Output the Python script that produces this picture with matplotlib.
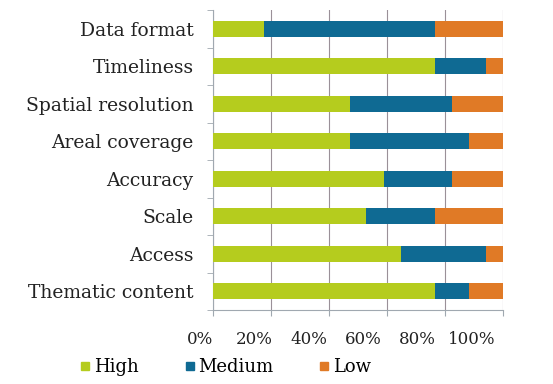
import numpy as np
import matplotlib
matplotlib.use('Agg')
import matplotlib.pyplot as plt
from matplotlib.lines import Line2D

categories = ['Thematic content', 'Access', 'Scale', 'Accuracy',
              'Areal coverage', 'Spatial resolution', 'Timeliness', 'Data format']
high = [76.5, 64.7, 52.9, 58.8, 47.1, 47.1, 76.5, 17.6]
medium = [11.8, 29.4, 23.5, 23.5, 41.2, 35.3, 17.6, 58.8]
low = [11.8, 5.9, 23.5, 17.6, 11.8, 17.6, 5.9, 23.5]
xticks = [0, 20, 40, 60, 80, 100]

colors = {'High': '#b5cc1e', 'Medium': '#0f6a93', 'Low': '#e07a26'}

plt.rcParams['font.family'] = ['DejaVu Serif']

fig = plt.figure(figsize=(5.53, 3.84), dpi=100)
ax = fig.add_axes([213 / 553, 1 - 310 / 384, 290 / 553, 300 / 384])

y = np.arange(len(categories))
h = np.array(high)
m = np.array(medium)
l = np.array(low)
ax.barh(y, h, height=0.43, color=colors['High'], zorder=3)
ax.barh(y, m, left=h, height=0.43, color=colors['Medium'], zorder=3)
ax.barh(y, l, left=h + m, height=0.43, color=colors['Low'], zorder=3)

ax.set_xlim(0, 100)
ax.set_ylim(-0.5, len(categories) - 0.5)
ax.set_xticks(xticks)
ax.set_xticklabels([])
ax.xaxis.grid(True, color='#9a9098', linewidth=0.8, zorder=0)

# tick labels sit a bit left of their ticks in the original
for v in xticks:
    ax.text(-4.5 + v * 0.938, -1.28, f'{v}%', transform=ax.transData,
            ha='center', va='center', fontsize=12, color='#222222',
            clip_on=False)

ax.set_yticks(y)
ax.set_yticklabels(categories, fontsize=13.5, color='#222222')
ax.set_yticks(np.arange(-0.5, len(categories), 1), minor=True)
ax.tick_params(axis='y', which='major', length=0, pad=14)
ax.tick_params(axis='y', which='minor', length=4, color='#a0a8b0')
ax.tick_params(axis='x', length=4, color='#a0a8b0')

for side in ['top', 'right']:
    ax.spines[side].set_visible(False)
for side in ['left', 'bottom']:
    ax.spines[side].set_color('#a0a8b0')

handles = [Line2D([], [], marker='s', linestyle='none', markersize=6,
                  color=colors[k]) for k in ['High', 'Medium', 'Low']]
fig.legend(handles, ['High', 'Medium', 'Low'], loc='center left',
           bbox_to_anchor=(60 / 553, 1 - 367 / 384), ncol=3, frameon=False,
           fontsize=13, handletextpad=0.0, columnspacing=2.3,
           handlelength=1.0)

fig.savefig('out.png', dpi=100)
